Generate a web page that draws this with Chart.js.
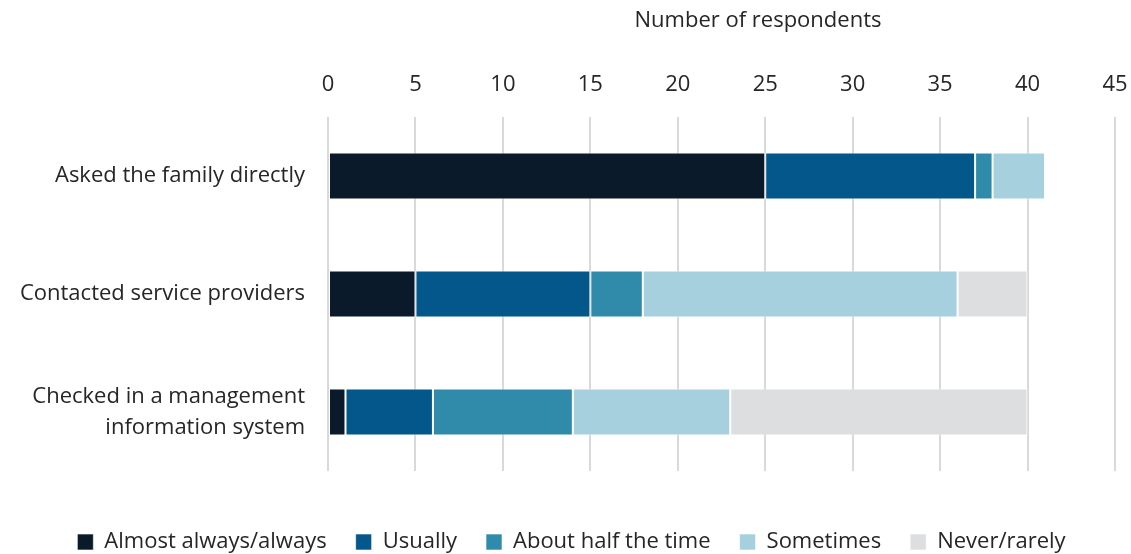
<!DOCTYPE html>
<html>
<head>
<meta charset="utf-8">
<script src="https://cdn.jsdelivr.net/npm/chart.js@4"></script>
<style>
  html, body { margin: 0; padding: 0; background: #fff; }
  #wrap { width: 1131px; height: 554px; }
</style>
</head>
<body>
<div id="wrap"><canvas id="myChart" width="1131" height="554"></canvas></div>
<script>
// categories and answers per category
const categories = [
    'Asked the family directly',
    'Contacted service providers',
    ['Checked in a management', 'information system']
];
const almostAlways = [25, 5, 1];
const usually      = [12, 10, 5];
const aboutHalf    = [1, 3, 8];
const sometimes    = [3, 18, 9];
const neverRarely  = [0, 4, 17];

const xTicks = [0, 5, 10, 15, 20, 25, 30, 35, 40, 45];

const fontFamily = "'Open Sans', 'Noto Sans', sans-serif";
const fontSize = 22;
const textColor = '#262626';

// axis title sits above the top tick labels
const axisTitle = {
    id: 'axisTitle',
    afterDraw(chart) {
        const c = chart.ctx;
        c.save();
        c.font = fontSize + 'px ' + fontFamily;
        c.fillStyle = textColor;
        c.textAlign = 'center';
        c.textBaseline = 'middle';
        c.fillText('Number of respondents', 758, 21);
        c.restore();
    }
};

function series(label, data, color) {
    return {
        label: label,
        data: data,
        backgroundColor: color,
        borderColor: 'rgba(255,255,255,0.6)',
        borderWidth: 1,
        borderSkipped: false,
        barPercentage: 0.4,
        categoryPercentage: 1
    };
}

const ctx = document.getElementById('myChart').getContext('2d');
const myChart = new Chart(ctx, {
    type: 'bar',
    data: {
        labels: categories,
        datasets: [
            series('Almost always/always', almostAlways, '#0a1a2a'),
            series('Usually', usually, '#03578a'),
            series('About half the time', aboutHalf, '#2f8ba9'),
            series('Sometimes', sometimes, '#a7d0de'),
            series('Never/rarely', neverRarely, '#dddee0')
        ]
    },
    options: {
        indexAxis: 'y',
        responsive: false,
        animation: false,
        // negative right padding keeps the legend centred where it should be
        layout: { padding: { top: 0, right: -12, bottom: -9, left: 0 } },
        scales: {
            x: {
                position: 'top',
                stacked: true,
                min: 0,
                max: 45,
                afterBuildTicks(axis) {
                    axis.ticks = xTicks.map(v => ({ value: v }));
                },
                afterFit(axis) {
                    axis.height = 117;
                    axis.paddingLeft = 0;
                    axis.paddingRight = 16;
                },
                border: { display: false },
                grid: { color: '#d9d9d9', lineWidth: 2, drawTicks: false },
                ticks: {
                    color: textColor,
                    padding: 19,
                    font: { family: fontFamily, size: fontSize }
                }
            },
            y: {
                stacked: true,
                afterFit(axis) { axis.width = 328; },
                border: { display: false },
                grid: { display: false, drawTicks: false },
                ticks: {
                    color: textColor,
                    padding: 23,
                    font: { family: fontFamily, size: fontSize, lineHeight: 1.4 }
                }
            }
        },
        plugins: {
            legend: {
                position: 'bottom',
                title: {
                    display: true,
                    text: ' ',
                    font: { size: 10, lineHeight: 1 },
                    padding: { top: 0, bottom: 21 }
                },
                labels: {
                    color: textColor,
                    boxWidth: 16,
                    boxHeight: 16,
                    padding: 29,
                    font: { family: fontFamily, size: fontSize }
                }
            },
            tooltip: { enabled: false }
        }
    },
    plugins: [axisTitle]
});
</script>
</body>
</html>
